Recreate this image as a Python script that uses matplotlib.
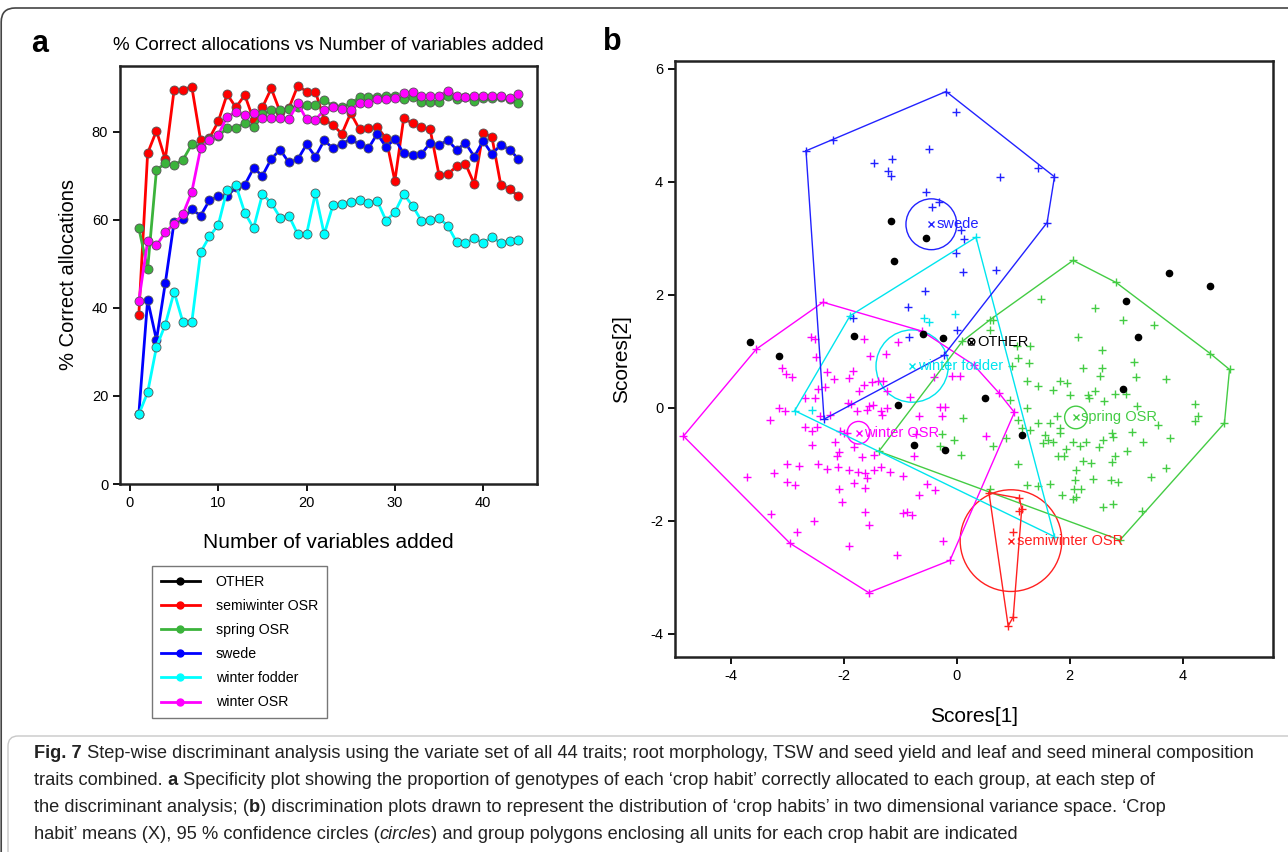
import numpy as np
import matplotlib
matplotlib.use("Agg")
import matplotlib.pyplot as plt
from matplotlib.lines import Line2D
from matplotlib.patches import Circle, FancyBboxPatch
from matplotlib import font_manager

W, H = 1288, 852

# ---- panel a: % correct allocations per step ----
steps = np.arange(1, 45)
semiwinter = [38.4, 75.1, 80.2, 73.7, 89.5, 89.5, 90.2, 78.1, 78.5, 82.3,
              88.5, 85.5, 88.3, 82.7, 85.5, 89.8, 84.5, 85.3, 90.4, 89.1,
              89.1, 82.7, 81.5, 79.5, 84.2, 80.5, 80.8, 81.0, 78.5, 68.8,
              83.0, 81.9, 81.1, 80.5, 70.2, 70.4, 72.1, 72.7, 68.1, 79.8,
              78.7, 67.9, 67.0, 65.3]
spring = [58.1, 48.8, 71.3, 72.8, 72.4, 73.6, 77.1, 76.5, 78.4, 79.0,
          80.8, 80.9, 81.9, 81.1, 83.9, 84.9, 84.8, 85.1, 85.5, 86.1,
          86.1, 87.2, 85.8, 85.5, 86.4, 87.8, 87.8, 87.8, 88.1, 88.2,
          87.4, 87.8, 86.7, 86.7, 86.8, 88.1, 87.3, 87.8, 87.0, 87.6,
          87.6, 87.8, 87.3, 86.4]
swede = [15.8, 41.8, 32.7, 45.6, 59.5, 60.1, 62.4, 60.9, 64.4, 65.3,
         65.3, 67.4, 67.9, 71.7, 70.0, 73.8, 75.9, 73.0, 73.7, 77.1,
         74.3, 78.0, 76.2, 77.2, 78.3, 77.1, 76.2, 79.5, 76.5, 78.3,
         75.1, 74.7, 74.9, 77.4, 77.0, 78.0, 75.9, 77.4, 74.3, 77.9,
         74.9, 77.0, 75.9, 73.8]
fodder = [15.8, 20.8, 31.1, 36.2, 43.6, 36.7, 36.7, 52.6, 56.2, 58.8,
          66.8, 67.8, 61.6, 58.1, 65.8, 63.8, 60.5, 60.9, 56.7, 56.7,
          66.0, 56.7, 63.4, 63.5, 64.1, 64.4, 63.8, 64.3, 59.8, 61.7,
          65.8, 63.2, 59.8, 60.0, 60.4, 58.6, 54.9, 54.7, 55.8, 54.7,
          56.1, 54.7, 55.2, 55.3]
winter_osr = [41.6, 55.1, 54.2, 57.1, 59.1, 61.3, 66.3, 76.2, 78.1, 79.3,
              83.4, 84.4, 83.8, 84.2, 83.0, 83.0, 83.0, 82.8, 86.4, 82.8,
              82.7, 84.9, 85.7, 85.1, 84.9, 86.4, 86.6, 87.3, 87.3, 87.6,
              88.7, 88.9, 88.1, 88.0, 88.1, 89.3, 88.1, 87.8, 88.1, 88.1,
              88.1, 88.0, 87.6, 88.5]

# ---- panel b: discriminant scores ----
other_pts = np.array([(-1.17, 3.30), (-0.54, 3.00), (-1.11, 2.60), (-3.67, 1.16), (-3.14, 0.92),
                      (-1.82, 1.28), (-0.59, 1.30), (-0.24, 1.24), (-1.04, 0.05), (-0.75, -0.65),
                      (-0.20, -0.74), (3.75, 2.38), (4.48, 2.16), (2.99, 1.89), (3.21, 1.26),
                      (2.95, 0.34), (0.50, 0.18), (1.16, -0.48)])
semi_pts = np.array([(0.57, -1.50), (1.11, -1.60), (1.15, -1.79), (1.00, -3.70), (0.91, -3.86),
                     (0.99, -2.19), (1.11, -1.82)])
spring_pts = np.array([
    (2.06, 2.61), (2.82, 2.22), (4.49, 0.96), (4.83, 0.68), (4.74, -0.27), (2.89, -2.34),
    (-1.38, -0.77), (0.10, 1.18),
    (1.50, 1.93), (2.45, 1.76), (2.95, 1.56), (3.50, 1.46), (2.15, 1.26), (0.59, 1.56),
    (0.59, 1.37), (1.07, 1.09), (1.30, 1.10), (2.57, 1.03), (1.09, 0.88), (1.28, 0.80),
    (0.97, 0.74), (3.14, 0.81), (2.23, 0.71), (2.57, 0.70), (2.54, 0.57), (3.18, 0.54),
    (3.70, 0.51), (1.24, 0.48), (1.44, 0.39), (1.82, 0.47), (1.95, 0.44), (1.71, 0.32),
    (2.01, 0.22), (2.33, 0.23), (2.45, 0.29), (2.35, 0.17), (2.60, 0.13), (2.80, 0.24),
    (2.99, 0.25), (0.94, 0.14), (1.25, 0.00), (3.19, 0.04), (4.21, 0.07), (4.28, -0.14),
    (4.22, -0.24), (3.57, -0.30), (0.11, -0.18), (1.09, -0.21), (1.44, -0.26), (1.65, -0.26),
    (1.77, -0.15), (1.83, -0.36), (1.15, -0.36), (1.30, -0.39), (0.88, -0.54), (0.64, -0.67),
    (0.08, -0.83), (1.56, -0.48), (1.62, -0.57), (1.71, -0.60), (1.83, -0.45), (1.53, -0.63),
    (1.93, -0.73), (2.06, -0.60), (2.18, -0.68), (2.29, -0.60), (2.51, -0.69), (2.59, -0.57),
    (2.75, -0.45), (2.76, -0.51), (3.10, -0.42), (3.30, -0.61), (3.77, -0.54), (3.01, -0.76),
    (2.80, -0.85), (1.79, -0.86), (1.89, -0.86), (2.24, -0.94), (2.37, -0.97), (2.75, -0.95),
    (1.09, -1.00), (2.11, -1.10), (2.09, -1.27), (2.42, -1.26), (2.73, -1.27), (2.86, -1.32),
    (3.44, -1.23), (3.70, -1.06), (1.65, -1.35), (1.44, -1.38), (1.24, -1.36), (2.07, -1.44),
    (2.20, -1.44), (1.86, -1.54), (2.05, -1.62), (2.12, -1.58), (2.59, -1.75), (2.77, -1.71),
    (3.28, -1.82), (0.59, -1.44), (-0.05, -0.56), (-0.29, -0.68), (-0.26, -0.47), (0.65, 1.56)])
swede_pts = np.array([
    (-2.67, 4.55), (-0.19, 5.60), (1.73, 4.09), (1.60, 3.28), (-0.23, 0.93), (-2.35, -0.20),
    (-0.02, 5.23), (-0.50, 4.59), (-1.47, 4.34), (-1.14, 4.40), (-1.22, 4.20), (-1.16, 4.11),
    (-0.54, 3.82), (-0.31, 3.65), (-0.44, 3.56), (0.07, 3.15), (0.12, 2.99), (-0.02, 2.75),
    (0.11, 2.41), (1.44, 4.24), (0.77, 4.09), (0.69, 2.44), (-0.57, 2.06), (-0.87, 1.78),
    (0.00, 1.38), (-0.85, 1.25), (-1.84, 1.59), (-2.19, 4.74)])
fodder_pts = np.array([(0.34, 3.02), (1.73, -2.28), (-2.87, -0.05), (-1.89, 1.63),
                       (-0.04, 1.66), (-0.58, 1.59), (-0.50, 1.52), (-2.57, -0.03)])
winter_pts = np.array([
    (-2.37, 1.87), (-0.62, 1.36), (0.30, 0.76), (0.75, 0.26), (1.02, -0.08), (-0.12, -2.70),
    (-1.56, -3.27), (-2.95, -2.40), (-4.84, -0.50), (-3.55, 1.04),
    (-2.59, 1.25), (-2.51, 1.22), (-1.64, 1.22), (-1.04, 1.16), (-1.53, 0.92), (-1.26, 0.96),
    (-2.49, 0.90), (-3.10, 0.70), (-3.02, 0.60), (-2.92, 0.54), (-2.30, 0.63), (-1.83, 0.66),
    (-2.18, 0.51), (-1.91, 0.52), (-1.50, 0.46), (-1.40, 0.48), (-1.30, 0.47), (-1.65, 0.41),
    (-2.46, 0.34), (-2.33, 0.37), (-1.74, 0.29), (-1.23, 0.29), (-2.69, 0.18), (-2.51, 0.18),
    (-3.14, 0.00), (-3.04, -0.06), (-1.93, 0.09), (-1.88, 0.06), (-1.56, 0.04), (-1.49, 0.05),
    (-1.59, -0.03), (-1.35, -0.05), (-1.23, 0.00), (-0.82, 0.20), (-2.42, -0.15), (-2.24, -0.12),
    (-1.77, -0.06), (-1.32, -0.12), (-3.30, -0.22), (-2.68, -0.33), (-2.48, -0.33), (-2.56, -0.41),
    (-2.06, -0.41), (-1.94, -0.44), (-0.67, -0.15), (-0.26, -0.14), (-0.20, 0.01), (-0.29, 0.01),
    (-2.15, -0.61), (-1.82, -0.70), (-2.56, -0.66), (-2.09, -0.78), (-2.12, -0.86), (-1.68, -0.87),
    (-1.47, -0.83), (-0.76, -0.85), (-0.73, -0.47), (-3.01, -0.99), (-2.80, -1.03), (-2.45, -0.99),
    (-2.29, -1.08), (-2.10, -1.05), (-3.72, -1.22), (-3.24, -1.16), (-1.91, -1.10), (-1.75, -1.13),
    (-1.62, -1.15), (-1.59, -1.24), (-1.47, -1.10), (-1.35, -1.05), (-1.19, -1.14), (-0.96, -1.20),
    (-3.01, -1.32), (-2.86, -1.37), (-1.82, -1.33), (-1.62, -1.42), (-2.09, -1.43), (-0.52, -1.35),
    (-0.38, -1.45), (-0.67, -1.54), (-2.03, -1.67), (-0.08, 0.57), (-0.41, 0.55), (-1.62, -1.85),
    (-0.95, -1.86), (-0.88, -1.85), (-0.79, -1.90), (-1.56, -2.07), (-2.53, -2.01), (-3.29, -1.87),
    (-2.83, -2.19), (-1.90, -2.45), (-1.06, -2.61), (-0.25, -2.36), (0.51, -0.50), (0.05, 0.57),
    (-2.00, -0.44)])

group_names = ["OTHER", "semiwinter OSR", "spring OSR", "swede", "winter fodder", "winter OSR"]
group_means = [(0.26, 1.17), (0.96, -2.35), (2.11, -0.17), (-0.45, 3.25), (-0.79, 0.74), (-1.74, -0.44)]
circle_radii = [0.06, 0.90, 0.20, 0.45, 0.64, 0.20]

colors_a = ["black", "#ff0000", "#3bb33b", "#0000ff", "#00ffff", "#ff00ff"]
colors_b = ["black", "#ff2020", "#44cc44", "#2222ff", "#00e5ee", "#ff00ff"]


def convex_hull(pts):
    p = sorted(map(tuple, pts))

    def half(seq):
        out = []
        for q in seq:
            while len(out) >= 2 and ((out[-1][0] - out[-2][0]) * (q[1] - out[-2][1])
                                     - (out[-1][1] - out[-2][1]) * (q[0] - out[-2][0])) <= 0:
                out.pop()
            out.append(q)
        return out
    lower, upper = half(p), half(reversed(p))
    h = lower[:-1] + upper[:-1]
    return np.array(h + [h[0]])


plt.rcParams["font.family"] = ["Liberation Sans", "DejaVu Sans"]
plt.rcParams["axes.unicode_minus"] = False
fig = plt.figure(figsize=(W / 100, H / 100), dpi=100)

# outer frame + caption box
fig.patches.append(FancyBboxPatch((0.012, -1), 14, 9.44, boxstyle="round,pad=0,rounding_size=0.14",
                                  transform=fig.dpi_scale_trans, fill=False, ec="#444444", lw=1.2))
fig.patches.append(FancyBboxPatch((0.08, -1), 14, 2.16, boxstyle="round,pad=0,rounding_size=0.1",
                                  transform=fig.dpi_scale_trans, fill=False, ec="#c8c8c8", lw=1.0))

# ---- panel a ----
axa = fig.add_axes([120 / W, 1 - 484 / H, 417 / W, 418 / H])
series = [semiwinter, spring, swede, fodder, winter_osr]
for vals, c in zip(series, colors_a[1:]):
    axa.plot(steps, vals, color=c, lw=2, marker="o", ms=6.5, mec="#555555", mew=0.6, mfc=c)
axa.set_xlim(-1.13, 46.1)
axa.set_ylim(0, 94.9)
axa.set_xticks([0, 10, 20, 30, 40])
axa.set_yticks([0, 20, 40, 60, 80])
axa.tick_params(direction="out", length=5, width=1.3, labelsize=10.5)
for s in axa.spines.values():
    s.set_linewidth(1.8)
    s.set_color("#222222")
axa.set_xlabel("Number of variables added", fontsize=15)
axa.xaxis.set_label_coords(0.5, (484 - 543) / 418)
axa.xaxis.label.set_va("center")
axa.set_ylabel("% Correct allocations", fontsize=14.5)
axa.yaxis.set_label_coords((68 - 120) / 417, 0.5)
axa.yaxis.label.set_va("center")
fig.text(328 / W, 1 - 45 / H, "% Correct allocations vs Number of variables added",
         ha="center", va="center", fontsize=13.5)
fig.text(40 / W, 1 - 44 / H, "a", ha="center", va="center", fontsize=22, fontweight="bold")

handles = [Line2D([], [], color=c, lw=2, marker="o", ms=5, mec=c) for c in colors_a]
leg = fig.legend(handles, group_names, loc="upper left", bbox_to_anchor=(152 / W, 1 - 566 / H),
                 fontsize=10.2, handlelength=2.8, labelspacing=0.72, handletextpad=1.1,
                 borderpad=0.6, borderaxespad=0, fancybox=False, frameon=True, edgecolor="#555555")
leg.get_frame().set_linewidth(1.0)

# ---- panel b ----
axb = fig.add_axes([675 / W, 1 - 657 / H, 598 / W, 596 / H])
pts_list = [other_pts, semi_pts, spring_pts, swede_pts, fodder_pts, winter_pts]
draw_order = [5, 2, 4, 3, 1, 0]
for i in draw_order:
    pts, c = pts_list[i], colors_b[i]
    if i == 0:
        axb.plot(pts[:, 0], pts[:, 1], "o", color="black", ms=4.5, ls="none")
    else:
        h = convex_hull(pts)
        axb.plot(h[:, 0], h[:, 1], color=c, lw=1.0)
        axb.plot(pts[:, 0], pts[:, 1], "+", color=c, ms=6, mew=1.0, ls="none")
for i, (name, (mx, my), r) in enumerate(zip(group_names, group_means, circle_radii)):
    c = colors_b[i]
    axb.add_patch(Circle((mx, my), r, fill=False, ec=c, lw=1.0))
    axb.plot(mx, my, "x", color=c, ms=5, mew=1.0)
    axb.annotate(name, (mx, my), xytext=(4, 0), textcoords="offset points",
                 ha="left", va="center", color=c, fontsize=10.5)
axb.set_xlim(-4.99, 5.60)
axb.set_ylim(-4.41, 6.14)
axb.set_xticks([-4, -2, 0, 2, 4])
axb.set_yticks([-4, -2, 0, 2, 4, 6])
axb.tick_params(direction="out", length=5, width=1.3, labelsize=10.5)
for s in axb.spines.values():
    s.set_linewidth(1.8)
    s.set_color("#222222")
axb.set_xlabel("Scores[1]", fontsize=15)
axb.xaxis.set_label_coords(0.5, (657 - 716) / 596)
axb.xaxis.label.set_va("center")
axb.set_ylabel("Scores[2]", fontsize=15)
axb.yaxis.set_label_coords((622 - 675) / 598, 0.5)
axb.yaxis.label.set_va("center")
fig.text(612 / W, 1 - 42 / H, "b", ha="center", va="center", fontsize=22, fontweight="bold")

# ---- caption ----
names = {f.name for f in font_manager.fontManager.ttflist}
cap_font = "Liberation Sans Narrow" if "Liberation Sans Narrow" in names else "Liberation Sans"
caption = [
    [("Fig. 7", "bold", "normal"),
     (" Step-wise discriminant analysis using the variate set of all 44 traits; root morphology, "
      "TSW and seed yield and leaf and seed mineral composition", "normal", "normal")],
    [("traits combined.", "normal", "normal"), (" a", "bold", "normal"),
     (" Specificity plot showing the proportion of genotypes of each \u2018crop habit\u2019 correctly "
      "allocated to each group, at each step of", "normal", "normal")],
    [("the discriminant analysis; (", "normal", "normal"), ("b", "bold", "normal"),
     (") discrimination plots drawn to represent the distribution of \u2018crop habits\u2019 in two "
      "dimensional variance space. \u2018Crop", "normal", "normal")],
    [("habit\u2019 means (X), 95 % confidence circles (", "normal", "normal"),
     ("circles", "normal", "italic"),
     (") and group polygons enclosing all units for each crop habit are indicated", "normal", "normal")],
]
baselines = [758, 785, 812, 839]


def draw_caption(size):
    renderer = fig.canvas.get_renderer()
    texts, widths = [], []
    for line, yb in zip(caption, baselines):
        x = 34
        for txt, wt, st in line:
            t = fig.text(x / W, 1 - yb / H, txt, fontsize=size, fontweight=wt, fontstyle=st,
                         family=[cap_font, "DejaVu Sans"], ha="left", va="baseline", color="#222222")
            x += t.get_window_extent(renderer).width
            texts.append(t)
        widths.append(x - 34)
    return texts, widths


texts, widths = draw_caption(14)
for t in texts:
    t.remove()
draw_caption(14 * 1231 / widths[0])

fig.savefig("out.png", dpi=100)
